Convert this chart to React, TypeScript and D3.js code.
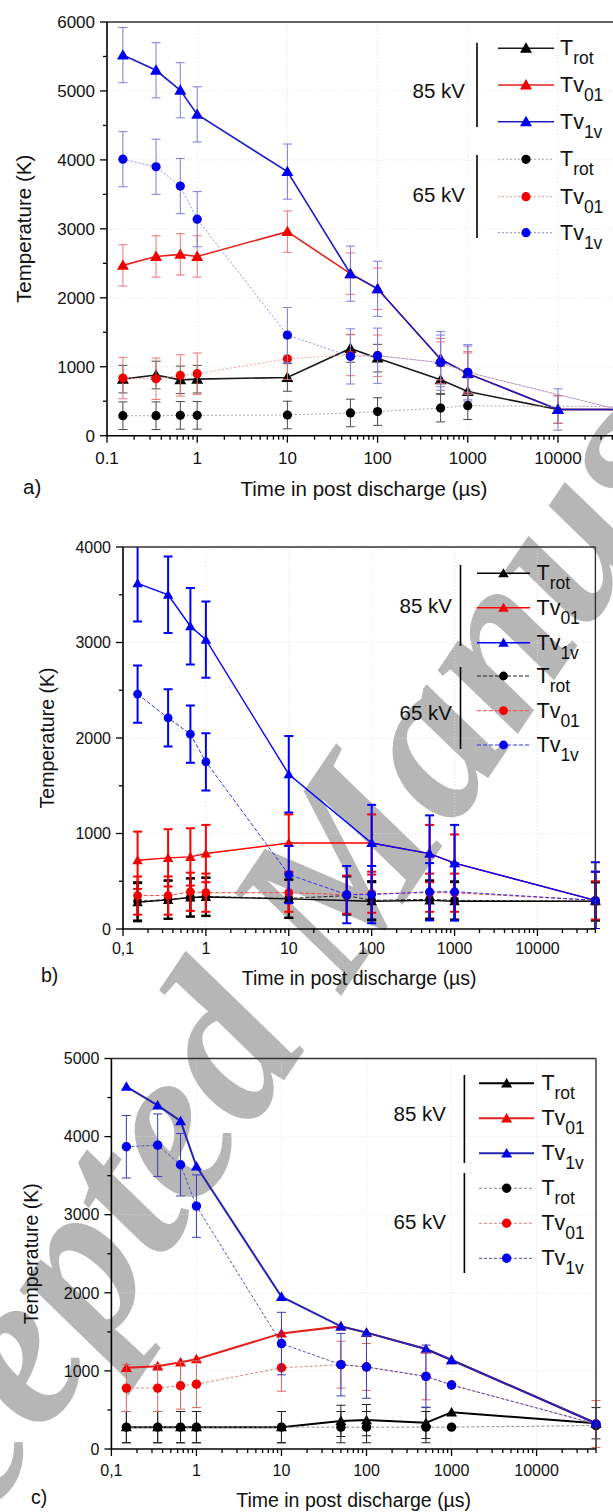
import React from "react";
import * as d3 from "d3";

// ---- tick values / labels ----
const xTickValues = [0.1, 1, 10, 100, 1000, 10000];
const xTickLabelsA = ["0.1", "1", "10", "100", "1000", "10000"];
const xTickLabelsBC = ["0,1", "1", "10", "100", "1000", "10000"];

// ---- panel a ----
const aX85 = [0.15, 0.35, 0.65, 1, 10, 50, 100, 500, 1000, 10000, 50000];
const aTrot85 = [820, 880, 810, 820, 845, 1265, 1125, 810, 640, 380, 380];
const aTv01_85 = [2470, 2600, 2630, 2600, 2960, 2350, 2130, 1110, 900, 380, 380];
const aTv1v_85 = [5520, 5300, 5010, 4660, 3830, 2350, 2130, 1110, 900, 380, 380];
const aErrTrot85 = [200, 200, 200, 200, 200, 200, 200, 200, 200, 200, 200];
const aErrTv01_85 = [300, 300, 300, 300, 300, 300, 300, 300, 300, 200, 200];
const aErrTv1v_85 = [400, 400, 400, 400, 400, 400, 400, 400, 400, 300, 300];
const aX65 = [0.15, 0.35, 0.65, 1, 10, 50, 100, 500, 1000, 50000];
const aTrot65 = [290, 290, 295, 295, 300, 330, 350, 400, 435, 420];
const aTv01_65 = [836, 826, 874, 899, 1116, 1170, 1160, 1060, 920, 370];
const aTv1v_65 = [4010, 3900, 3620, 3140, 1460, 1150, 1160, 1060, 920, 370];
const aErrTrot65 = [200, 200, 200, 200, 200, 200, 200, 200, 200, 200];
const aErrTv01_65 = [300, 300, 300, 300, 300, 300, 300, 300, 300, 300];
const aErrTv1v_65 = [400, 400, 400, 400, 400, 400, 400, 400, 400, 300];

// ---- panel b ----
const bX85 = [0.15, 0.35, 0.65, 1, 10, 100, 500, 1000, 50000];
const bTrot85 = [280, 305, 330, 335, 315, 290, 300, 290, 290];
const bTv01_85 = [720, 745, 755, 790, 900, 900, 790, 690, 300];
const bTv1v_85 = [3620, 3500, 3170, 3030, 1620, 900, 790, 690, 300];
const bErrTrot85 = [200, 200, 200, 200, 200, 200, 200, 200, 200];
const bErrTv01_85 = [300, 300, 300, 300, 300, 300, 300, 300, 300];
const bErrTv1v_85 = [400, 400, 400, 400, 400, 400, 400, 400, 400];
const bX65 = [0.15, 0.35, 0.65, 1, 10, 50, 100, 500, 1000, 50000];
const bTrot65 = [290, 310, 330, 340, 320, 350, 300, 310, 300, 290];
const bTv01_65 = [350, 350, 390, 380, 380, 360, 370, 380, 380, 300];
const bTv1v_65 = [2460, 2210, 2040, 1750, 570, 360, 360, 390, 390, 300];
const bErrTrot65 = [200, 200, 200, 200, 200, 200, 200, 200, 200, 200];
const bErrTv01_65 = [200, 200, 200, 200, 200, 200, 200, 200, 200, 200];
const bErrTv1v_65 = [300, 300, 300, 300, 300, 300, 300, 300, 300, 300];

// ---- panel c ----
const cX85 = [0.15, 0.35, 0.65, 1, 10, 50, 100, 500, 1000, 50000];
const cTrot85 = [280, 280, 280, 280, 280, 360, 370, 335, 470, 330];
const cTv01_85 = [1040, 1060, 1110, 1150, 1480, 1570, 1490, 1280, 1140, 330];
const cTv1v_85 = [4640, 4400, 4200, 3620, 1950, 1570, 1490, 1280, 1140, 330];
const cErrTrot85 = [200, 200, 200, 200, 200, 200, 200, 200, 0, 200];
const cErrNone = [0, 0, 0, 0, 0, 0, 0, 0, 0, 0];
const cX65 = [0.15, 0.35, 0.65, 1, 10, 50, 100, 500, 1000, 50000];
const cTrot65 = [280, 280, 280, 280, 280, 280, 280, 280, 280, 300];
const cTv01_65 = [780, 780, 810, 830, 1040, 1080, 1050, 930, 820, 320];
const cTv1v_65 = [3870, 3890, 3640, 3110, 1350, 1080, 1050, 930, 820, 320];
const cErrTrot65 = [200, 200, 200, 200, 200, 200, 200, 200, 0, 0];
const cErrTv01_65 = [300, 300, 300, 300, 300, 300, 300, 300, 0, 300];
const cErrTv1v_65 = [400, 400, 400, 400, 400, 400, 400, 400, 0, 0];

const legendNames = [
  ["T", "rot"],
  ["Tv", "01"],
  ["Tv", "1v"],
];

const watermarkText = "Accepted Manuscript";

const FONT = "Arial, 'Liberation Sans', Helvetica, sans-serif";

type Series = {
  xs: number[];
  ys: number[];
  errs: number[];
  kind: "tri" | "circle";
  lineColor: string;
  lineWidth: number;
  dash?: string;
  markColor: string;
  errColor: string;
};

type Style = {
  tri: number;
  r: number;
  lw85: number;
  line85: string[];
  mark: string[];
  lw65: number;
  dash65: string;
  line65: string[];
  err: string[];
  errW: number;
  cap: number;
};

type PanelDef = {
  id: string;
  left: number;
  right: number;
  top: number;
  bottom: number;
  yMax: number;
  xLabels: string[];
  tickFont: number;
  titleFont: number;
  yTitleX: number;
  xTitleY: number;
  xTickY: number;
  letter: string;
  letterX: number;
  letterY: number;
  style: Style;
  d85: { xs: number[]; ys: number[][]; errs: number[][] };
  d65: { xs: number[]; ys: number[][]; errs: number[][] };
  leg: {
    vx: number;
    v1: [number, number];
    v2: [number, number];
    kvX: number;
    kv85Y: number;
    kv65Y: number;
    lx1: number;
    lx2: number;
    mx: number;
    tx: number;
    rows: number[];
  };
};

const styleA: Style = {
  tri: 12, r: 4.6, lw85: 1.6,
  line85: ["#1a1a1a", "#e3201c", "#1c1cc4"],
  mark: ["#000000", "#f20000", "#0000f0"],
  lw65: 1, dash65: "2,2",
  line65: ["#a8a8a8", "#f2a0a0", "#8c8ce4"],
  err: ["#4a4a4a", "#f07474", "#7c7cdc"], errW: 1, cap: 9,
};
const styleB: Style = {
  tri: 10.5, r: 4.4, lw85: 1.4,
  line85: ["#000000", "#ff0000", "#0000ff"],
  mark: ["#000000", "#f00000", "#0000f0"],
  lw65: 1, dash65: "4,2",
  line65: ["#202020", "#ff4040", "#3030ff"],
  err: ["#000000", "#ff0000", "#0000ff"], errW: 2, cap: 9,
};
const styleC: Style = {
  tri: 11, r: 4.7, lw85: 2,
  line85: ["#000000", "#e3201c", "#2424b0"],
  mark: ["#000000", "#f00000", "#0000f0"],
  lw65: 1, dash65: "3,2",
  line65: ["#8a8a8a", "#e08080", "#5050b0"],
  err: ["#222222", "#e06464", "#3a3ac0"], errW: 1, cap: 9,
};

const panels: PanelDef[] = [
  {
    id: "a", left: 107, right: 621, top: 22, bottom: 435.7, yMax: 6000,
    xLabels: xTickLabelsA, tickFont: 17, titleFont: 20.5,
    yTitleX: 24, xTitleY: 496, xTickY: 464, letter: "a)", letterX: 23, letterY: 494,
    style: styleA,
    d85: { xs: aX85, ys: [aTrot85, aTv01_85, aTv1v_85], errs: [aErrTrot85, aErrTv01_85, aErrTv1v_85] },
    d65: { xs: aX65, ys: [aTrot65, aTv01_65, aTv1v_65], errs: [aErrTrot65, aErrTv01_65, aErrTv1v_65] },
    leg: { vx: 477, v1: [42.7, 127], v2: [155, 238], kvX: 465, kv85Y: 97.5, kv65Y: 201.5,
      lx1: 498, lx2: 554, mx: 526, tx: 560, rows: [48.3, 85, 121.7, 159.3, 196.7, 232.7] },
  },
  {
    id: "b", left: 123, right: 595.4, top: 547, bottom: 929, yMax: 4000,
    xLabels: xTickLabelsBC, tickFont: 16, titleFont: 19.5,
    yTitleX: 47, xTitleY: 985, xTickY: 954, letter: "b)", letterX: 41, letterY: 982,
    style: styleB,
    d85: { xs: bX85, ys: [bTrot85, bTv01_85, bTv1v_85], errs: [bErrTrot85, bErrTv01_85, bErrTv1v_85] },
    d65: { xs: bX65, ys: [bTrot65, bTv01_65, bTv1v_65], errs: [bErrTrot65, bErrTv01_65, bErrTv1v_65] },
    leg: { vx: 460.5, v1: [565, 646], v2: [667, 749], kvX: 452, kv85Y: 612.5, kv65Y: 720,
      lx1: 477, lx2: 530, mx: 503.5, tx: 536.5, rows: [573.3, 607.7, 642.7, 676, 710.7, 745] },
  },
  {
    id: "c", left: 111.4, right: 596, top: 1058.5, bottom: 1449, yMax: 5000,
    xLabels: xTickLabelsBC, tickFont: 16, titleFont: 19.5,
    yTitleX: 31, xTitleY: 1507, xTickY: 1476, letter: "c)", letterX: 31, letterY: 1504,
    style: styleC,
    d85: { xs: cX85, ys: [cTrot85, cTv01_85, cTv1v_85], errs: [cErrTrot85, cErrNone, cErrNone] },
    d65: { xs: cX65, ys: [cTrot65, cTv01_65, cTv1v_65], errs: [cErrTrot65, cErrTv01_65, cErrTv1v_65] },
    leg: { vx: 464.4, v1: [1075, 1163], v2: [1173, 1273], kvX: 446, kv85Y: 1120.6, kv65Y: 1229,
      lx1: 479, lx2: 534, mx: 506.6, tx: 541.4, rows: [1083.3, 1118.3, 1153.3, 1188.3, 1223.3, 1258.3] },
  },
];

const triPath = (w: number) =>
  d3.symbol(d3.symbolTriangle, (Math.sqrt(3) / 4) * w * w)() as string;

function buildSeries(p: PanelDef): Series[] {
  const s = p.style;
  const out: Series[] = [];
  for (let i = 0; i < 3; i++) {
    out.push({
      xs: p.d85.xs, ys: p.d85.ys[i], errs: p.d85.errs[i], kind: "tri",
      lineColor: s.line85[i], lineWidth: s.lw85, markColor: s.mark[i], errColor: s.err[i],
    });
  }
  for (let i = 0; i < 3; i++) {
    out.push({
      xs: p.d65.xs, ys: p.d65.ys[i], errs: p.d65.errs[i], kind: "circle",
      lineColor: s.line65[i], lineWidth: s.lw65, dash: s.dash65, markColor: s.mark[i], errColor: s.err[i],
    });
  }
  return out;
}

function Panel({ p }: { p: PanelDef }) {
  const x = d3.scaleLog().domain([0.1, 50000]).range([p.left, p.right]);
  const y = d3.scaleLinear().domain([0, p.yMax]).range([p.bottom, p.top]);
  const series = buildSeries(p);
  const s = p.style;

  const minorX: number[] = [];
  for (let e = -1; e <= 4; e++) {
    for (let k = 2; k <= 9; k++) {
      const v = k * Math.pow(10, e);
      if (v <= 50000) minorX.push(v);
    }
  }
  const majorY = d3.range(0, p.yMax + 1, 1000);
  const minorY = d3.range(500, p.yMax, 1000);
  const clipId = `clip-${p.id}`;
  const tri = triPath(s.tri);

  const mkLine = (sr: Series) =>
    d3.line<number>()
      .x((_, i) => x(sr.xs[i]))
      .y((d) => y(d))(sr.ys) as string;

  const marker = (kind: "tri" | "circle", cx: number, cy: number, color: string, key: string) =>
    kind === "tri" ? (
      <path key={key} d={tri} transform={`translate(${cx},${cy + 1})`} fill={color} />
    ) : (
      <circle key={key} cx={cx} cy={cy} r={s.r} fill={color} />
    );

  return (
    <g>
      <defs>
        <clipPath id={clipId}>
          <rect x={p.left - 12} y={p.top} width={p.right - p.left + 24} height={p.bottom - p.top} />
        </clipPath>
      </defs>
      {/* grid */}
      <g stroke="#dcdcdc" strokeWidth={0.8} strokeDasharray="1,2">
        {xTickValues.slice(1).map((v) => (
          <line key={`gx${v}`} x1={x(v)} x2={x(v)} y1={p.top} y2={p.bottom} />
        ))}
        {majorY.slice(1).map((v) => (
          <line key={`gy${v}`} x1={p.left} x2={p.right} y1={y(v)} y2={y(v)} />
        ))}
      </g>

      {/* data */}
      {series.map((sr, si) => (
        <g key={`s${si}`}>
          <path
            d={mkLine(sr)}
            fill="none"
            stroke={sr.lineColor}
            strokeWidth={sr.lineWidth}
            strokeDasharray={sr.dash}
            clipPath={`url(#${clipId})`}
          />
          <g stroke={sr.errColor} strokeWidth={s.errW} clipPath={`url(#${clipId})`}>
            {sr.ys.map((v, i) =>
              sr.errs[i] > 0 ? (
                <g key={`e${i}`}>
                  <line x1={x(sr.xs[i])} x2={x(sr.xs[i])} y1={y(v - sr.errs[i])} y2={y(v + sr.errs[i])} />
                  <line x1={x(sr.xs[i]) - s.cap / 2} x2={x(sr.xs[i]) + s.cap / 2} y1={y(v - sr.errs[i])} y2={y(v - sr.errs[i])} />
                  <line x1={x(sr.xs[i]) - s.cap / 2} x2={x(sr.xs[i]) + s.cap / 2} y1={y(v + sr.errs[i])} y2={y(v + sr.errs[i])} />
                </g>
              ) : null
            )}
          </g>
          {sr.ys.map((v, i) => marker(sr.kind, x(sr.xs[i]), y(v), sr.markColor, `m${i}`))}
        </g>
      ))}

      {/* frame and axes */}
      <line x1={p.left} x2={p.right} y1={p.top} y2={p.top} stroke="#333" strokeWidth={1.4} />
      <line x1={p.right} x2={p.right} y1={p.top} y2={p.bottom} stroke="#333" strokeWidth={1.4} />
      <line x1={p.left} x2={p.left} y1={p.top} y2={p.bottom + 0.7} stroke="#000" strokeWidth={1.6} />
      <line x1={p.left - 0.7} x2={p.right} y1={p.bottom} y2={p.bottom} stroke="#000" strokeWidth={1.6} />
      <g stroke="#000" strokeWidth={1.3}>
        {xTickValues.map((v) => (
          <line key={`tx${v}`} x1={x(v)} x2={x(v)} y1={p.bottom} y2={p.bottom + 7} />
        ))}
        {minorX.map((v) => (
          <line key={`mx${v}`} x1={x(v)} x2={x(v)} y1={p.bottom} y2={p.bottom + 4} />
        ))}
        {majorY.map((v) => (
          <line key={`ty${v}`} x1={p.left - 7} x2={p.left} y1={y(v)} y2={y(v)} />
        ))}
        {minorY.map((v) => (
          <line key={`my${v}`} x1={p.left - 4} x2={p.left} y1={y(v)} y2={y(v)} />
        ))}
      </g>
      <g fontFamily={FONT} fontSize={p.tickFont} fill="#111">
        {xTickValues.map((v, i) => (
          <text key={`lx${v}`} x={x(v)} y={p.xTickY} textAnchor="middle">
            {p.xLabels[i]}
          </text>
        ))}
        {majorY.map((v) => (
          <text key={`ly${v}`} x={p.left - 12} y={y(v) + p.tickFont * 0.36} textAnchor="end">
            {v}
          </text>
        ))}
      </g>
      <g fontFamily={FONT} fontSize={p.titleFont} fill="#111">
        <text
          transform={`translate(${p.yTitleX + p.titleFont * 0.36},${(p.top + p.bottom) / 2}) rotate(-90)`}
          textAnchor="middle"
        >
          Temperature (K)
        </text>
        <text x={(p.left + p.right) / 2} y={p.xTitleY} textAnchor="middle">
          Time in post discharge (µs)
        </text>
        <text x={p.letterX} y={p.letterY}>
          {p.letter}
        </text>
      </g>

      {/* legend */}
      <g>
        <line x1={p.leg.vx} x2={p.leg.vx} y1={p.leg.v1[0]} y2={p.leg.v1[1]} stroke="#000" strokeWidth={1.6} />
        <line x1={p.leg.vx} x2={p.leg.vx} y1={p.leg.v2[0]} y2={p.leg.v2[1]} stroke="#000" strokeWidth={1.6} />
        <text x={p.leg.kvX} y={p.leg.kv85Y} textAnchor="end" fontFamily={FONT} fontSize={20.5} fill="#111">
          85 kV
        </text>
        <text x={p.leg.kvX} y={p.leg.kv65Y} textAnchor="end" fontFamily={FONT} fontSize={20.5} fill="#111">
          65 kV
        </text>
        {series.map((sr, i) => {
          const ry = p.leg.rows[i];
          const nm = legendNames[i % 3];
          return (
            <g key={`lg${i}`}>
              <line
                x1={p.leg.lx1}
                x2={p.leg.lx2}
                y1={ry}
                y2={ry}
                stroke={sr.lineColor}
                strokeWidth={sr.kind === "tri" ? Math.max(1.4, sr.lineWidth) : 1}
                strokeDasharray={sr.dash}
              />
              {marker(sr.kind, p.leg.mx, ry, sr.markColor, "lm")}
              <text x={p.leg.tx} y={ry + 7} fontFamily={FONT} fontSize={21.5} fill="#111">
                {nm[0]}
                <tspan fontSize={17.5} dy={9}>
                  {nm[1]}
                </tspan>
              </text>
            </g>
          );
        })}
      </g>
    </g>
  );
}

function Watermark() {
  // large diagonal "Accepted Manuscript" stamp behind the charts
  return (
    <text
      transform="translate(-150,1724) rotate(-56)"
      fontFamily="'Liberation Serif', 'DejaVu Serif', serif"
      fontStyle="italic"
      fontWeight="bold"
      fontSize={222}
      fill="#b6b6b6"
    >
      {watermarkText}
    </text>
  );
}

export default function App() {
  return (
    <svg
      width={613}
      height={1512}
      style={{ position: "absolute", left: 0, top: 0, background: "#fff" }}
    >
      <rect x={0} y={0} width={613} height={1512} fill="#fff" />
      <Watermark />
      {panels.map((p) => (
        <Panel key={p.id} p={p} />
      ))}
    </svg>
  );
}
